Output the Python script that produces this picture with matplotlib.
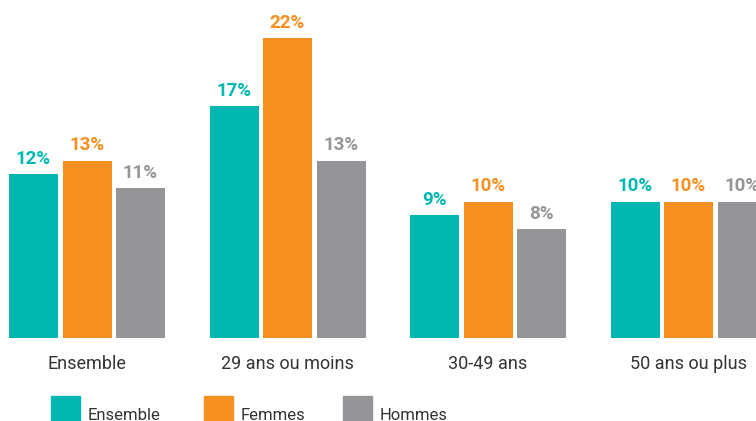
import matplotlib.pyplot as plt
from matplotlib.patches import Rectangle
import numpy as np

categories = ["Ensemble", "29 ans ou moins", "30-49 ans", "50 ans ou plus"]
series = ["Ensemble", "Femmes", "Hommes"]
values = {
    "Ensemble": [12, 17, 9, 10],
    "Femmes": [13, 22, 10, 10],
    "Hommes": [11, 13, 8, 10],
}
colors = {"Ensemble": "#00B8B1", "Femmes": "#F58F1F", "Hommes": "#939598"}

plt.rcParams['font.family'] = ['Roboto', 'DejaVu Sans']

fig = plt.figure(figsize=(7.56, 4.21), dpi=100)
ax = fig.add_axes([0, 83 / 421, 1, 338 / 421])  # baseline at y=338 px

x = np.arange(len(categories))
step = 53.5 / 200.5  # bar spacing within a group
width = 49 / 200.5
for j, s in enumerate(series):
    xs = x + (j - 1) * step
    bars = ax.bar(xs, values[s], width=width, color=colors[s])
    for b, v in zip(bars, values[s]):
        ax.text(b.get_x() + b.get_width() / 2, v + 0.45, f"{v}%", ha="center", va="bottom",
                fontsize=13.5, fontweight="bold", color=colors[s])

ax.set_xlim(-87 / 200.5, (756 - 87) / 200.5)
ax.set_ylim(0, 338 / 13.65)
ax.set_xticks(x)
ax.set_xticklabels(categories, fontsize=13, color="#333333")
ax.tick_params(axis="x", length=0, pad=12)
ax.set_yticks([])
for sp in ax.spines.values():
    sp.set_visible(False)

# legend drawn by hand at the bottom
leg_x = [51, 204, 343]
for s, lx in zip(series, leg_x):
    fig.patches.append(Rectangle((lx / 756, 0), 29 / 756, 25 / 421, transform=fig.transFigure,
                                 color=colors[s]))
    fig.text((lx + 37) / 756, 6 / 421, s, fontsize=12, color="#333333", ha="left", va="center")

fig.savefig("out.png", dpi=100)
